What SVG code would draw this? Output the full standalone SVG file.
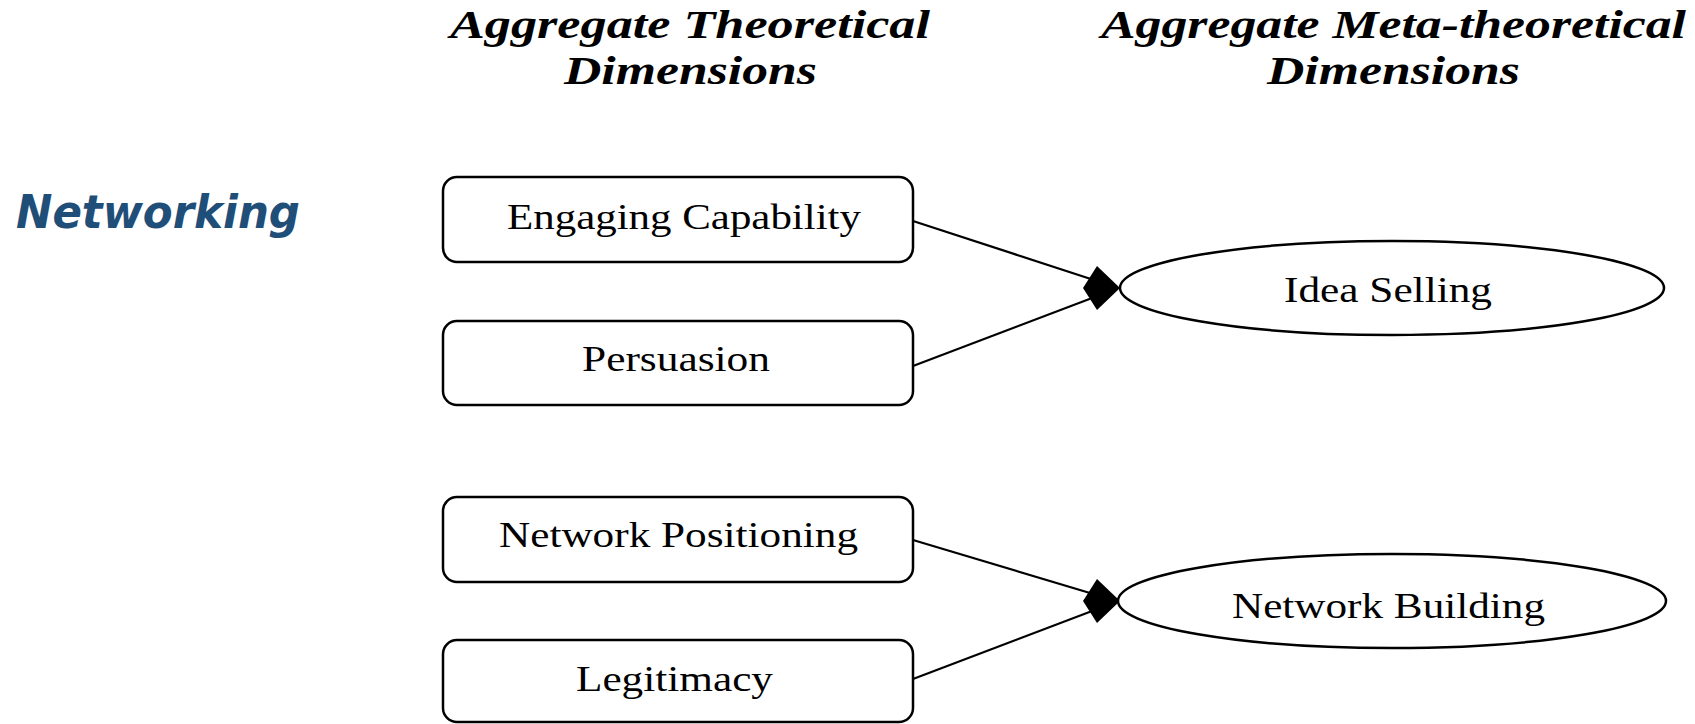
<svg xmlns="http://www.w3.org/2000/svg" width="1695" height="724" viewBox="0 0 1695 724">
<style>
.head{font-family:"Liberation Serif","Times New Roman",serif;font-weight:bold;font-style:italic;font-size:41px;fill:#000}
.lbl{font-family:"Liberation Serif","Times New Roman",serif;font-size:35px;fill:#000}
.box{fill:#fff;stroke:#000;stroke-width:2.5}
.conn{stroke:#000;stroke-width:2.2;fill:none}
.title{font-family:"DejaVu Sans","Liberation Sans",Verdana,sans-serif;font-weight:bold;font-style:italic;font-size:46px;fill:#1f4e79}
</style>
<defs>
<polygon id="dia" points="0,0 -23,-22 -37,0 -23,22" fill="#000"/>
</defs>
<rect width="1695" height="724" fill="#fff"/>
<g id="headings">
<text class="head" x="450" y="38" textLength="480" lengthAdjust="spacingAndGlyphs">Aggregate Theoretical</text>
<text class="head" x="564" y="84" textLength="253" lengthAdjust="spacingAndGlyphs">Dimensions</text>
<text class="head" x="1101" y="38" textLength="585" lengthAdjust="spacingAndGlyphs">Aggregate Meta-theoretical</text>
<text class="head" x="1267" y="84" textLength="253" lengthAdjust="spacingAndGlyphs">Dimensions</text>
</g>
<g id="networking">
<text class="title" x="16" y="228" textLength="284" lengthAdjust="spacingAndGlyphs">Networking</text>
</g>
<g id="connectors">
<line class="conn" x1="913" y1="221" x2="1100" y2="282"/>
<line class="conn" x1="913" y1="366" x2="1100" y2="295"/>
<line class="conn" x1="913" y1="540" x2="1100" y2="596"/>
<line class="conn" x1="913" y1="679" x2="1100" y2="608"/>
<use href="#dia" x="1120" y="288"/>
<use href="#dia" x="1120" y="601"/>
</g>
<g id="engaging-capability">
<rect class="box" x="443" y="177" width="470" height="85" rx="14"/>
<text class="lbl" x="507" y="229" textLength="354" lengthAdjust="spacingAndGlyphs">Engaging Capability</text>
</g>
<g id="persuasion">
<rect class="box" x="443" y="321" width="470" height="84" rx="14"/>
<text class="lbl" x="582" y="371" textLength="188" lengthAdjust="spacingAndGlyphs">Persuasion</text>
</g>
<g id="network-positioning">
<rect class="box" x="443" y="497" width="470" height="85" rx="14"/>
<text class="lbl" x="499" y="547" textLength="359" lengthAdjust="spacingAndGlyphs">Network Positioning</text>
</g>
<g id="legitimacy">
<rect class="box" x="443" y="640" width="470" height="82" rx="14"/>
<text class="lbl" x="576" y="691" textLength="197" lengthAdjust="spacingAndGlyphs">Legitimacy</text>
</g>
<g id="idea-selling">
<ellipse class="box" cx="1392" cy="288" rx="272" ry="47"/>
<text class="lbl" x="1284" y="302" textLength="208" lengthAdjust="spacingAndGlyphs">Idea Selling</text>
</g>
<g id="network-building">
<ellipse class="box" cx="1392" cy="601" rx="274" ry="47"/>
<text class="lbl" x="1232" y="618" textLength="313" lengthAdjust="spacingAndGlyphs">Network Building</text>
</g>
</svg>
